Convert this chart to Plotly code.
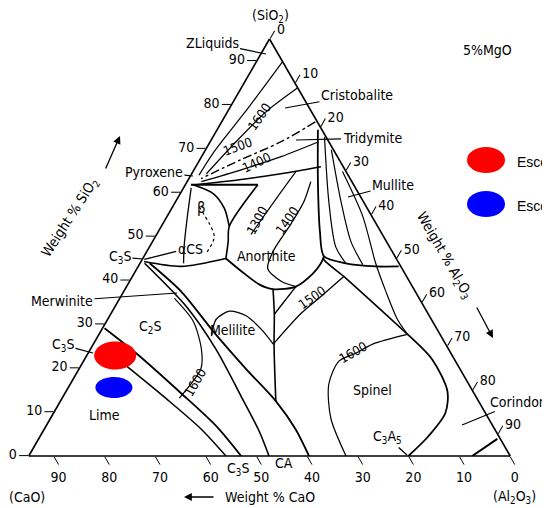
import numpy as np
import plotly.graph_objects as go

# ---------------- data (weight %, section at 5 % MgO -> oxides sum to 95) ----------------
TOTAL = 95
AXIS_TICKS = [0, 10, 20, 30, 40, 50, 60, 70, 80, 90]

# slag compositions (SiO2, CaO, Al2O3)
slag_names = ["Escória 1", "Escória 2"]
slag_sio2 = [22.9, 15.6]
slag_cao = [66.5, 70.4]
slag_al2o3 = [5.6, 9.0]
slag_colors = ["#ff0000", "#0000ff"]

# phase-boundary / isotherm curves, points as (SiO2, Al2O3); CaO = TOTAL - SiO2 - Al2O3
two_liquids = [(90.0, 5.2), (79.6, 3.7), (69.3, 1.9), (64.0, 1.6)]
iso_1600_top = [(84.1, 11.3), (78.4, 7.6), (71.6, 5.1), (64.3, 2.9)]
iso_1500_top = [(76.1, 18.5), (71.6, 14.0), (67.5, 8.1), (63.2, 2.4)]
iso_1400_top = [(71.6, 21.4), (68.2, 15.7), (65.2, 9.3), (62.5, 2.8)]
silica_low = [(65.9, 24.7), (64.3, 17.6), (63.0, 10.4), (61.8, 2.1)]
tridymite_1 = [(74.3, 19.9), (62.5, 25.8), (51.1, 31.9), (45.5, 35.5), (43.9, 40.6), (43.2, 46.9), (43.2, 51.4)]
tridymite_2 = [(72.7, 22.0), (58.0, 30.2), (47.7, 36.7), (43.9, 40.6)]
tridymite_3 = [(69.8, 24.8), (58.0, 32.6), (48.9, 39.1), (43.6, 44.1)]
mullite_b = [(64.8, 29.5), (54.6, 38.6), (43.9, 46.5), (37.5, 51.7), (31.1, 57.2), (27.7, 60.9)]
spinel_top = [(45.5, 35.5), (44.8, 35.8), (40.9, 41.7), (27.7, 60.9)]
spinel_b = [(27.7, 60.9), (22.0, 68.6), (14.8, 75.2), (9.8, 77.3), (4.5, 76.6), (0.0, 74.9)]
iso_1600_spinel = [(0.0, 62.6), (8.6, 55.3), (16.4, 51.0), (21.6, 50.4), (23.4, 52.8), (25.5, 55.1), (27.7, 60.9)]
corundum_b = [(0.0, 87.5), (3.9, 90.5)]
anorthite_b = [(45.0, 16.4), (42.1, 20.9), (39.1, 25.9), (38.0, 29.2), (38.6, 33.4), (41.6, 35.3), (43.9, 35.7), (45.5, 35.5)]
vertical_b = [(38.0, 29.2), (32.3, 32.3), (25.0, 35.9), (12.5, 42.5)]
v_branch = [(32.3, 32.3), (38.6, 33.4)]
iso_1500_mid = [(25.5, 35.5), (32.5, 37.5), (36.4, 39.5), (40.9, 41.7)]
melilite_loop = [(27.3, 22.4), (31.1, 21.4), (33.0, 23.1), (32.0, 26.8), (28.9, 31.4), (25.5, 35.5)]
melilite_b = [(43.9, 1.9), (37.5, 11.3), (28.4, 22.2), (19.8, 33.0), (12.5, 42.5), (6.1, 49.6), (0.0, 55.3)]
c3s_b = [(43.9, 0.9), (34.1, 14.0), (24.3, 24.8), (13.6, 35.1), (5.7, 42.6), (0.0, 47.4)]
lime_c2s_1 = [(29.1, 0.4), (23.4, 9.5), (14.3, 22.9), (6.8, 33.6), (0.0, 41.9)]
lime_c2s_2 = [(21.1, 8.1), (13.0, 20.7), (6.1, 31.0), (0.0, 38.9)]
iso_1600_c2s = [(35.9, 10.8), (30.7, 17.1), (24.5, 21.8), (20.0, 24.0), (17.0, 23.9), (13.2, 23.1)]
pyroxene_h = [(61.8, 1.1), (61.8, 14.3)]
pyroxene_d = [(61.8, 14.3), (52.3, 13.4), (48.9, 14.9), (45.0, 16.4)]
pyroxene_c = [(61.8, 1.5), (59.8, 6.5), (56.4, 10.4), (52.3, 13.4)]
beta_b = [(61.1, 1.5), (54.6, 4.0), (47.7, 6.8), (43.9, 8.6)]
beta_inner = [(56.8, 5.2), (50.0, 11.6), (46.1, 11.9)]
c3s_alpha = [(44.8, 0.4), (46.6, 5.8)]
c3s_junction = [(44.3, 0.6), (43.2, 8.5), (45.0, 16.4)]
iso_1300 = [(64.8, 20.3), (58.6, 19.5), (50.5, 18.6)]
iso_1400_mid = [(62.5, 24.4), (58.0, 25.3), (53.0, 25.3), (46.6, 24.9), (42.7, 25.8), (39.8, 29.9), (38.6, 33.4)]

# ---------------- layout geometry ----------------
W, H = 550, 508
OFF = 8                      # page body margin of the html page
L, T = 19, 31
PW, PH = 485, 417
R, B = W - L - PW, H - T - PH
TRI_W = min(PW, PH * 2 / np.sqrt(3))
TRI_H = TRI_W * np.sqrt(3) / 2
FONT = "DejaVu Sans Condensed, Liberation Sans Narrow, DejaVu Sans"


def P(x, y):
    """screen pixel -> paper coordinates"""
    return (x - OFF - L) / PW, 1 - (y - OFF - T) / PH


fig = go.Figure()


def add_curve(pts, dash="solid", width=1.4):
    s = np.array([p[0] for p in pts])
    a = np.array([p[1] for p in pts])
    fig.add_trace(go.Scatterternary(
        a=s, b=TOTAL - s - a, c=a, mode="lines",
        line=dict(color="black", width=width, dash=dash, shape="spline", smoothing=0.8),
        hoverinfo="skip", showlegend=False))


for curve, dash, wd in [
    (two_liquids, "solid", 1.2), (iso_1600_top, "solid", 1.2), (iso_1500_top, "dashdot", 1.4),
    (iso_1400_top, "solid", 1.2), (silica_low, "solid", 1.4), (tridymite_1, "solid", 1.8),
    (tridymite_2, "solid", 1.2), (tridymite_3, "solid", 1.2), (mullite_b, "solid", 1.2),
    (spinel_top, "solid", 1.6), (spinel_b, "solid", 1.8), (iso_1600_spinel, "solid", 1.2),
    (corundum_b, "solid", 2.0), (anorthite_b, "solid", 1.8), (vertical_b, "solid", 1.6),
    (v_branch, "solid", 1.4), (iso_1500_mid, "solid", 1.3), (melilite_loop, "solid", 1.3),
    (melilite_b, "solid", 1.8), (c3s_b, "solid", 1.6), (lime_c2s_1, "solid", 1.8),
    (lime_c2s_2, "solid", 1.5), (iso_1600_c2s, "solid", 1.2), (pyroxene_h, "solid", 1.8),
    (pyroxene_d, "solid", 1.6), (pyroxene_c, "solid", 1.6), (beta_b, "solid", 1.3),
    (beta_inner, "dot", 1.2), (c3s_alpha, "solid", 1.3), (c3s_junction, "solid", 1.6),
    (iso_1300, "solid", 1.2), (iso_1400_mid, "solid", 1.3)]:
    add_curve(curve, dash, wd)

# slag markers drawn as filled ellipses around the data points
RX = [21, 18.5]
RY = [14, 10.5]
tt = np.linspace(0, 2 * np.pi, 72)
for i in range(len(slag_names)):
    da = RY[i] * np.sin(tt) / TRI_H * TOTAL
    dc = RX[i] * np.cos(tt) / TRI_W * TOTAL - da / 2
    aa = slag_sio2[i] + da
    cc = slag_al2o3[i] + dc
    fig.add_trace(go.Scatterternary(
        a=aa, b=TOTAL - aa - cc, c=cc, mode="lines", fill="toself",
        fillcolor=slag_colors[i], line=dict(width=0, color=slag_colors[i]),
        name=slag_names[i], showlegend=False, hoverinfo="skip"))

axis_common = dict(
    min=0, tickmode="array", tickvals=AXIS_TICKS, ticktext=[str(v) for v in AXIS_TICKS],
    ticks="outside", ticklen=9, tickwidth=1.2, tickcolor="black",
    linecolor="black", linewidth=1.6, showgrid=False, showline=True,
    tickfont=dict(family=FONT, size=14, color="black"), title=dict(text=""))

fig.update_layout(
    width=W, height=H, margin=dict(l=L, r=R, t=T, b=B),
    paper_bgcolor="white", plot_bgcolor="white",
    ternary=dict(sum=TOTAL, bgcolor="white",
                 aaxis=axis_common, baxis=axis_common, caxis=axis_common),
    font=dict(family=FONT, size=14, color="black"),
    showlegend=False,
)

ann = []


def label(text, x, y, size=14, angle=0, anchor="center", font=FONT):
    px, py = P(x, y)
    ann.append(dict(text=text, x=px, y=py, xref="paper", yref="paper", showarrow=False,
                    xanchor=anchor, yanchor="middle", textangle=angle,
                    font=dict(family=font, size=size, color="black")))


def leader(text, tx, ty, hx, hy, size=14):
    px, py = P(hx, hy)
    ann.append(dict(text=text, x=px, y=py, xref="paper", yref="paper", showarrow=True,
                    arrowhead=0, arrowwidth=1.2, arrowcolor="black", ax=tx - hx, ay=ty - hy,
                    font=dict(family=FONT, size=size, color="black")))


def arrow(x0, y0, x1, y1):
    px, py = P(x1, y1)
    ann.append(dict(text="", x=px, y=py, xref="paper", yref="paper", showarrow=True,
                    arrowhead=2, arrowsize=1.2, arrowwidth=1.3, arrowcolor="black",
                    ax=x0 - x1, ay=y0 - y1))


label("(SiO<sub>2</sub>)", 270, 16)
label("5%MgO", 487, 50)
leader("ZLiquids", 212, 43, 266, 54)
leader("Cristobalite", 357, 95, 285, 108)
leader("Tridymite", 372, 138, 296, 140)
leader("Mullite", 393, 185, 348, 197)
leader("Pyroxene", 154, 172, 193, 176)
label("β", 201, 208, size=15)
label("αCS", 190, 249)
leader("C<sub>3</sub>S", 120, 257, 143, 259)
label("Anorthite", 266, 256)
leader("Merwinite", 62, 301, 177, 293)
label("C<sub>2</sub>S", 150, 327)
label("Melilite", 233, 330)
leader("C<sub>3</sub>S", 63, 345, 93, 353)
label("Lime", 104, 415)
label("Spinel", 372, 390)
leader("C<sub>3</sub>A<sub>5</sub>", 387, 437, 407, 455)
leader("Corindon", 518, 402, 462, 425)
label("C<sub>3</sub>S", 238, 469)
label("CA", 284, 463)

label("1600", 260, 117, size=13, angle=-55)
label("1500", 238, 147, size=13, angle=-20)
label("1400", 257, 163, size=13, angle=-25)
label("1300", 257, 220, size=13, angle=-62)
label("1400", 287, 220, size=13, angle=-55)
label("1500", 312, 297, size=13, angle=-35)
label("1600", 353, 352, size=13, angle=-30)
label("1600", 195, 382, size=13, angle=-60)

label("Weight % SiO<sub>2</sub>", 70, 218, angle=-57)
arrow(105, 170, 120, 136)
label("Weight % Al<sub>2</sub>O<sub>3</sub>", 444, 255, angle=60)
arrow(476, 306, 493, 338)
label("Weight % CaO", 270, 497)
arrow(215, 497, 184, 497)
label("(CaO)", 27, 497)
label("(Al<sub>2</sub>O<sub>3</sub>)", 514, 497)

# legend (drawn manually so the keys keep the ellipse shape)
LEG_Y = [160, 204]
shapes = []
for i, nm in enumerate(slag_names):
    x0, y0 = P(467, LEG_Y[i] - 13)
    x1, y1 = P(505, LEG_Y[i] + 13)
    shapes.append(dict(type="circle", xref="paper", yref="paper", x0=x0, y0=y1, x1=x1, y1=y0,
                       fillcolor=slag_colors[i], line=dict(width=0)))
    label(nm, 515, LEG_Y[i] + 2, anchor="left", font="Liberation Sans, Arial, sans-serif")

fig.update_layout(annotations=ann, shapes=shapes)
fig.write_html("out.html")
